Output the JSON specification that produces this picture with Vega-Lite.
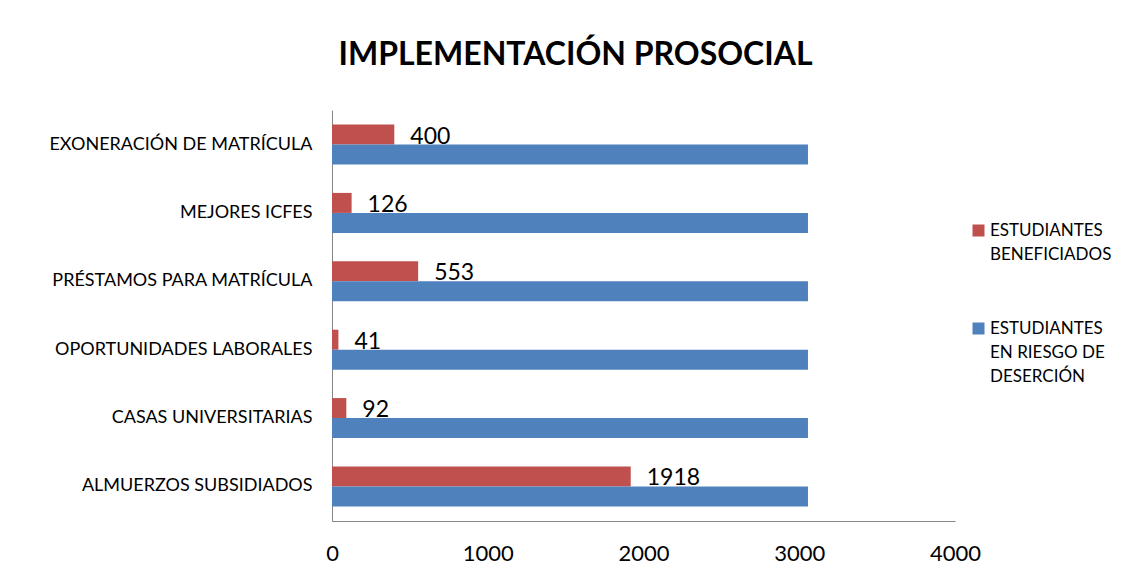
{
  "$schema": "https://vega.github.io/schema/vega-lite/v6.json",
  "width": 623,
  "height": 411,
  "autosize": {"type": "none"},
  "padding": {"left": 332, "top": 110, "right": 174, "bottom": 59},
  "background": "white",
  "config": {
    "view": {"stroke": null},
    "font": "Lato",
    "axis": {"labelFont": "Lato", "labelColor": "black", "domainColor": "#868686", "grid": false, "ticks": false, "title": null}
  },
  "title": {
    "text": "IMPLEMENTACIÓN PROSOCIAL",
    "font": "Lato",
    "fontSize": 32,
    "fontWeight": "bold",
    "color": "black",
    "anchor": "middle",
    "frame": "group",
    "dx": -68,
    "offset": 38
  },
  "data": {
    "values": [
      {"programa": "EXONERACIÓN DE MATRÍCULA", "serie": "ESTUDIANTES BENEFICIADOS", "valor": 400},
      {"programa": "EXONERACIÓN DE MATRÍCULA", "serie": "ESTUDIANTES EN RIESGO DE DESERCIÓN", "valor": 3056},
      {"programa": "MEJORES ICFES", "serie": "ESTUDIANTES BENEFICIADOS", "valor": 126},
      {"programa": "MEJORES ICFES", "serie": "ESTUDIANTES EN RIESGO DE DESERCIÓN", "valor": 3056},
      {"programa": "PRÉSTAMOS PARA MATRÍCULA", "serie": "ESTUDIANTES BENEFICIADOS", "valor": 553},
      {"programa": "PRÉSTAMOS PARA MATRÍCULA", "serie": "ESTUDIANTES EN RIESGO DE DESERCIÓN", "valor": 3056},
      {"programa": "OPORTUNIDADES LABORALES", "serie": "ESTUDIANTES BENEFICIADOS", "valor": 41},
      {"programa": "OPORTUNIDADES LABORALES", "serie": "ESTUDIANTES EN RIESGO DE DESERCIÓN", "valor": 3056},
      {"programa": "CASAS UNIVERSITARIAS", "serie": "ESTUDIANTES BENEFICIADOS", "valor": 92},
      {"programa": "CASAS UNIVERSITARIAS", "serie": "ESTUDIANTES EN RIESGO DE DESERCIÓN", "valor": 3056},
      {"programa": "ALMUERZOS SUBSIDIADOS", "serie": "ESTUDIANTES BENEFICIADOS", "valor": 1918},
      {"programa": "ALMUERZOS SUBSIDIADOS", "serie": "ESTUDIANTES EN RIESGO DE DESERCIÓN", "valor": 3056}
    ]
  },
  "encoding": {
    "y": {
      "field": "programa",
      "type": "nominal",
      "sort": ["EXONERACIÓN DE MATRÍCULA", "MEJORES ICFES", "PRÉSTAMOS PARA MATRÍCULA", "OPORTUNIDADES LABORALES", "CASAS UNIVERSITARIAS", "ALMUERZOS SUBSIDIADOS"],
      "scale": {"paddingInner": 0.415, "paddingOuter": 0.212},
      "axis": {"labelFontSize": 18, "labelPadding": 20, "labelLimit": 400}
    },
    "yOffset": {
      "field": "serie",
      "type": "nominal",
      "scale": {"domain": ["ESTUDIANTES BENEFICIADOS", "ESTUDIANTES EN RIESGO DE DESERCIÓN"]}
    },
    "x": {
      "field": "valor",
      "type": "quantitative",
      "scale": {"domain": [0, 4000], "nice": false},
      "axis": {"values": [0, 1000, 2000, 3000, 4000], "format": "d", "labelFontSize": 22, "labelPadding": 22, "labelFlush": false, "labelOverlap": false}
    }
  },
  "layer": [
    {
      "mark": {"type": "bar"},
      "encoding": {
        "color": {
          "field": "serie",
          "type": "nominal",
          "scale": {"domain": ["ESTUDIANTES BENEFICIADOS", "ESTUDIANTES EN RIESGO DE DESERCIÓN"], "range": ["#C0504D", "#4F81BD"]},
          "legend": {
            "title": null,
            "orient": "none",
            "legendX": 638,
            "legendY": 112,
            "padding": 0,
            "symbolType": "square",
            "symbolSize": 144,
            "symbolStrokeWidth": 0,
            "labelFont": "Lato",
            "labelFontSize": 17,
            "labelColor": "black",
            "labelOffset": 3,
            "labelLimit": 300,
            "rowPadding": 56,
            "labelExpr": "datum.label == 'ESTUDIANTES BENEFICIADOS' ? ['ESTUDIANTES', 'BENEFICIADOS'] : ['ESTUDIANTES', 'EN RIESGO DE', 'DESERCIÓN']",
            "encode": {"labels": {"update": {"lineHeight": {"value": 24}}}}
          }
        }
      }
    },
    {
      "transform": [{"filter": "datum.serie == 'ESTUDIANTES BENEFICIADOS'"}],
      "mark": {"type": "text", "align": "left", "baseline": "middle", "dx": 16, "dy": 2, "fontSize": 23, "font": "Lato", "color": "black"},
      "encoding": {
        "text": {"field": "valor", "type": "quantitative", "format": "d"}
      }
    }
  ]
}
